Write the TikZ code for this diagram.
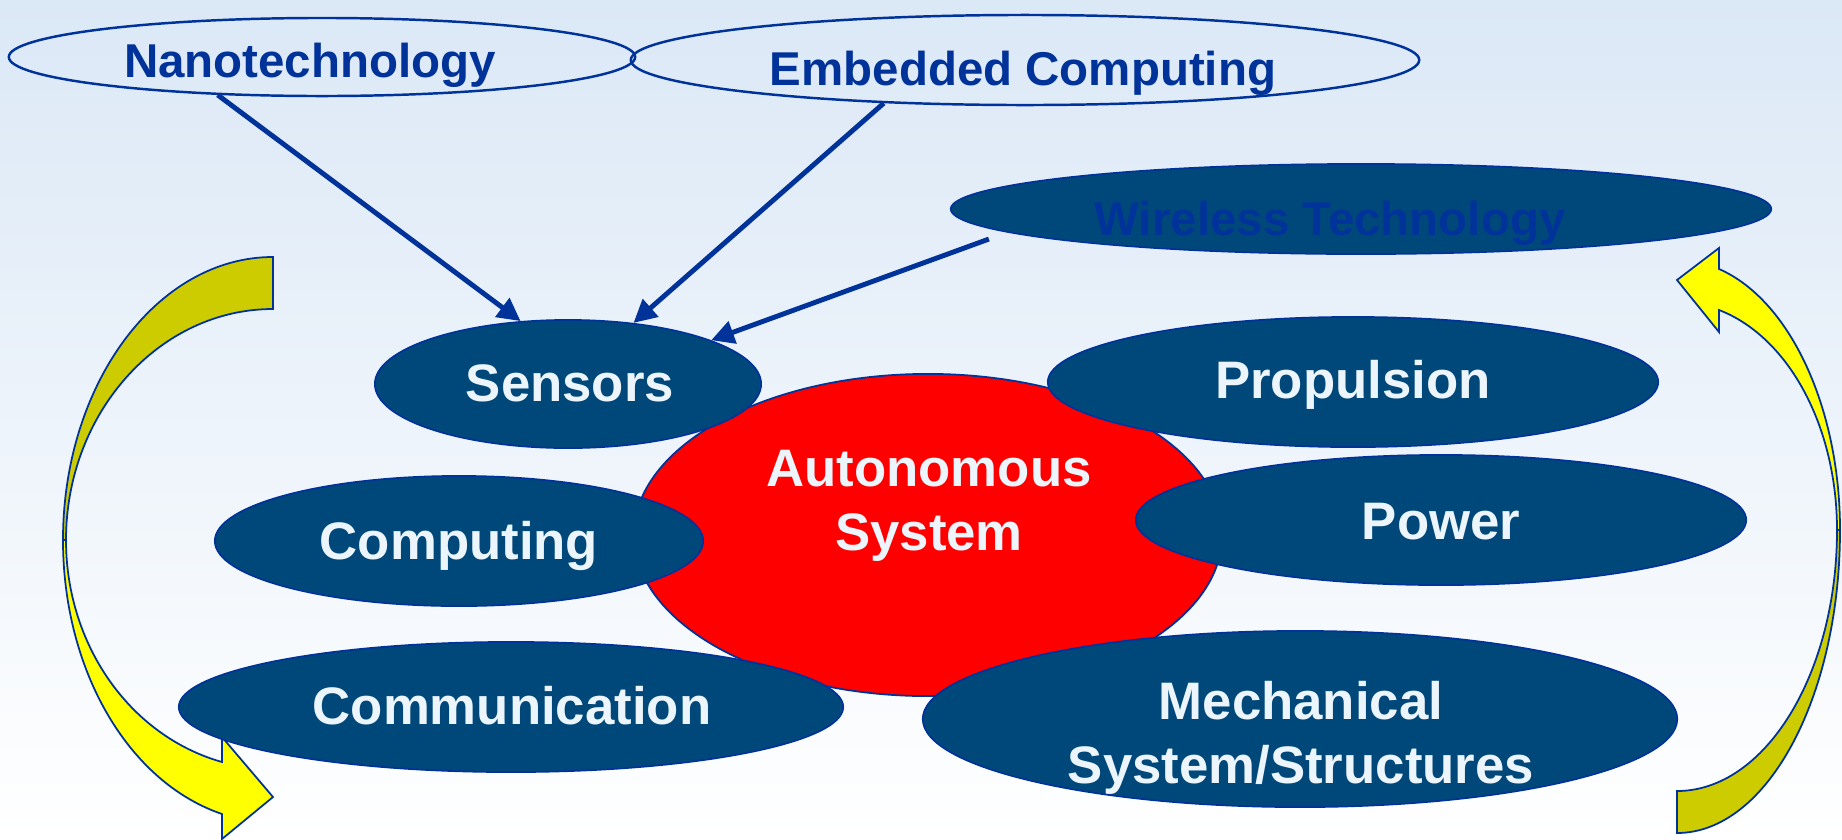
\documentclass[tikz,border=0pt]{standalone}
\usepackage{fontspec}
\setmainfont{Liberation Sans}
\usetikzlibrary{shapes.geometric,arrows.meta}
\definecolor{bgtop}{RGB}{219,232,246}
\definecolor{navy}{RGB}{0,51,153}
\definecolor{efill}{RGB}{0,72,122}
\definecolor{olive}{RGB}{204,204,0}
\definecolor{yel}{RGB}{255,255,0}
\definecolor{wtext}{RGB}{236,245,252}
\definecolor{redfill}{RGB}{255,0,0}
\begin{document}
\begin{tikzpicture}[x=0.01cm,y=-0.01cm,
  ell/.style={ellipse, draw=navy, line width=0.5pt, inner sep=0pt},
  dark/.style={ell, fill=efill},
  hollow/.style={ell, line width=0.7pt},
  ttl/.style={text=navy, font=\fontsize{13.5}{16}\selectfont\bfseries, anchor=base, inner sep=0pt},
  wtx/.style={text=wtext, font=\fontsize{15}{18}\selectfont\bfseries, anchor=base, inner sep=0pt, align=center},
  link/.style={draw=navy, line width=1.4pt, -{Triangle[length=6.5pt,width=6.5pt]}},
  band/.style={draw=navy, line width=0.5pt, line join=miter}]
\useasboundingbox (0,0) rectangle (1842,839);
\shade[top color=bgtop, bottom color=white] (0,0) rectangle (1842,839);

% curved yellow arrows
\draw[band, fill=olive] (273,257) .. controls (157,257) and (63,384) .. (63,540)
  -- (66,540) .. controls (66,413) and (159,309) .. (273,309) -- cycle;
\draw[band, fill=yel] (63,540) .. controls (63,670) and (128,782) .. (222,814)
  -- (222,839) -- (273,797) -- (222,737) -- (222,762)
  .. controls (130,736) and (66,645) .. (66,540) -- cycle;
\draw[band, fill=yel] (1840,530) .. controls (1840,408) and (1790,300) .. (1719,269)
  -- (1719,248) -- (1677,280) -- (1719,332) -- (1719,310)
  .. controls (1789,337) and (1837,427) .. (1837,530) -- cycle;
\draw[band, fill=olive] (1840,530) .. controls (1840,697) and (1767,833) .. (1677,833)
  -- (1677,791) .. controls (1765,791) and (1837,674) .. (1837,530) -- cycle;

% ellipses
\node[hollow, minimum width=6.26cm, minimum height=0.78cm] (nano) at (322,57) {};
\node[hollow, minimum width=7.88cm, minimum height=0.90cm] (emb) at (1025,60) {};
\node[dark, minimum width=8.20cm, minimum height=0.90cm] (wire) at (1361,209) {};
\node[ell, fill=redfill, minimum width=5.88cm, minimum height=3.22cm] (auto) at (928,535) {};
\node[dark, minimum width=3.86cm, minimum height=1.28cm] (sens) at (568,384) {};
\node[dark, minimum width=4.88cm, minimum height=1.30cm] (comp) at (459,541) {};
\node[dark, minimum width=6.64cm, minimum height=1.30cm] (comm) at (511,707) {};
\node[dark, minimum width=6.10cm, minimum height=1.30cm] (prop) at (1353,382) {};
\node[dark, minimum width=6.10cm, minimum height=1.30cm] (pow) at (1441,520) {};
\node[dark, minimum width=7.54cm, minimum height=1.76cm] (mech) at (1300,719) {};

% connectors
\draw[link] (nano.200) -- (sens.127);
\draw[link] (emb.197) -- (sens.43);
\draw[link] ([yshift=-3pt]wire.183.2) -- (sens.17);

% labels
\node[ttl] (tnano) at (310,77) {Nanotechnology};
\node[ttl] (temb) at (1023,85) {Embedded Computing};
\node[ttl] (twire) at (1330,235) {Wireless Technology};
\node[wtx] (tsens) at (570,401) {Sensors};
\node[wtx] (tcomp) at (459,559) {Computing};
\node[wtx] (tcomm) at (512,724) {Communication};
\node[wtx] (tauto) at (929,550) {Autonomous\\System};
\node[wtx] (tprop) at (1353,398) {Propulsion};
\node[wtx] (tpow) at (1441,539) {Power};
\node[wtx] (tmech) at (1301,783) {Mechanical\\System/Structures};
\end{tikzpicture}
\end{document}
